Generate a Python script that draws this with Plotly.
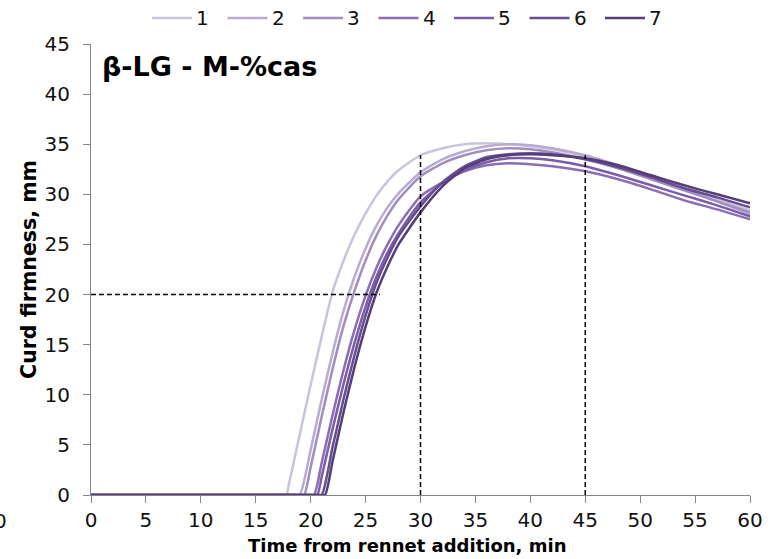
import plotly.graph_objects as go

# Sampling times (min) and curd firmness (mm) for the seven groups
TIME = [0, 17, 18, 19, 20, 21, 22, 23, 24, 25, 26, 27, 28, 30, 32, 34, 36,
        38, 40, 42, 45, 48, 51, 54, 57, 60]

SERIES_NAMES = ["1", "2", "3", "4", "5", "6", "7"]
ONSET = [17.8, 19.0, 19.4, 20.3, 20.6, 21.0, 21.3]

FIRM_1 = [0, 0, 1.0, 6.0, 11.0, 15.8, 20.3, 23.4, 26.0, 28.1, 29.9, 31.3, 32.4,
          33.9, 34.6, 35.0, 35.1, 35.0, 34.8, 34.5, 33.8, 32.9, 31.8, 30.6, 29.5, 28.4]
FIRM_2 = [0, 0, 0, 0, 4.5, 9.5, 14.2, 18.4, 21.8, 24.6, 26.9, 28.7, 30.1,
          32.2, 33.5, 34.3, 34.8, 35.0, 34.9, 34.6, 33.9, 32.9, 31.8, 30.6, 29.3, 28.0]
FIRM_3 = [0, 0, 0, 0, 2.8, 7.8, 12.6, 16.9, 20.4, 23.4, 25.9, 27.9, 29.5,
          31.8, 33.1, 33.9, 34.4, 34.6, 34.5, 34.2, 33.5, 32.6, 31.5, 30.4, 29.3, 28.2]
FIRM_4 = [0, 0, 0, 0, 0, 3.2, 8.0, 12.5, 16.5, 19.9, 22.7, 25.0, 26.9,
          29.8, 31.2, 32.3, 32.9, 33.1, 33.0, 32.8, 32.3, 31.5, 30.5, 29.4, 28.5, 27.5]
FIRM_5 = [0, 0, 0, 0, 0, 1.8, 6.6, 11.1, 15.2, 18.8, 21.8, 24.2, 26.1,
          29.2, 31.1, 32.4, 33.2, 33.6, 33.6, 33.4, 32.8, 31.9, 30.9, 29.9, 28.9, 27.8]
FIRM_6 = [0, 0, 0, 0, 0, 0, 4.8, 9.6, 14.0, 17.9, 21.2, 23.7, 25.8,
          28.8, 31.2, 32.8, 33.7, 34.0, 34.1, 34.0, 33.5, 32.7, 31.7, 30.6, 29.7, 28.7]
FIRM_7 = [0, 0, 0, 0, 0, 0, 3.4, 8.3, 12.8, 16.8, 20.2, 22.8, 25.0,
          28.2, 30.8, 32.6, 33.5, 33.9, 34.0, 33.9, 33.6, 32.9, 31.9, 30.9, 30.0, 29.1]

FIRMNESS = [FIRM_1, FIRM_2, FIRM_3, FIRM_4, FIRM_5, FIRM_6, FIRM_7]
COLORS = ["#cbc3da", "#b9abd0", "#a28dc2", "#8c6db5", "#7b5ca8", "#684c93", "#553d78"]

# Reference guides: firmness of 20 mm, and readings at 30 and 45 min
GUIDE_H_X = [0, 26.3]
GUIDE_H_Y = [20, 20]
GUIDE_V30_X = [30, 30]
GUIDE_V30_Y = [0, 33.9]
GUIDE_V45_X = [45, 45]
GUIDE_V45_Y = [0, 33.9]

X_TICKS = list(range(0, 61, 5))
Y_TICKS = list(range(0, 46, 5))

FONT = "DejaVu Sans, Liberation Sans, Arial, sans-serif"

# page geometry (px) of the plotting area
W, H = 771, 559
ML, MR, MT, MB = 91, 21, 44, 64
PW, PH = W - ML - MR, H - MT - MB


def px_to_paper(px, py):
    return (px - ML) / PW, (H - MB - py) / PH


fig = go.Figure()

for name, onset, vals, color in zip(SERIES_NAMES, ONSET, FIRMNESS, COLORS):
    # flat baseline up to the onset of coagulation, then the measured curve
    rise = [(t, v) for t, v in zip(TIME, vals) if t > onset]
    xs = [0, onset - 6, onset - 2, onset - 0.5, onset] + [t for t, _ in rise]
    ys = [0, 0, 0, 0, 0] + [v for _, v in rise]
    fig.add_trace(go.Scatter(
        x=xs, y=ys, name=name, mode="lines", showlegend=False,
        line=dict(color=color, width=2.5, shape="spline", smoothing=0.6),
    ))

for gx, gy in [(GUIDE_H_X, GUIDE_H_Y), (GUIDE_V30_X, GUIDE_V30_Y), (GUIDE_V45_X, GUIDE_V45_Y)]:
    fig.add_trace(go.Scatter(
        x=gx, y=gy, mode="lines", showlegend=False, hoverinfo="skip",
        line=dict(color="black", width=1.5, dash="5px,3px"),
    ))

# legend row across the top: a short coloured line followed by the group number
shapes, annotations = [], []
LEG_X0, LEG_STEP, LEG_LINE, LEG_Y = 152, 75.5, 40, 18
for i, (name, color) in enumerate(zip(SERIES_NAMES, COLORS)):
    x0 = LEG_X0 + i * LEG_STEP
    ax0, ay = px_to_paper(x0, LEG_Y)
    ax1, _ = px_to_paper(x0 + LEG_LINE, LEG_Y)
    shapes.append(dict(type="line", xref="paper", yref="paper",
                       x0=ax0, x1=ax1, y0=ay, y1=ay,
                       line=dict(color=color, width=2.5)))
    tx, _ = px_to_paper(x0 + LEG_LINE + 2, LEG_Y)
    annotations.append(dict(text=name, xref="paper", yref="paper",
                            x=tx, y=ay, xanchor="left", yanchor="middle",
                            showarrow=False, font=dict(size=20, color="#111111")))

tx, ty = px_to_paper(100, 66)
annotations.append(dict(text="<b>β-LG - M-%cas</b>", xref="paper", yref="paper",
                        x=tx, y=ty, xanchor="left", yanchor="middle",
                        showarrow=False, font=dict(size=27, color="black")))
tx, ty = px_to_paper(407, 545)
annotations.append(dict(text="<b>Time from rennet addition, min</b>", xref="paper",
                        yref="paper", x=tx, y=ty, xanchor="center", yanchor="middle",
                        showarrow=False, font=dict(size=18, color="black")))
tx, ty = px_to_paper(9, 521)
annotations.append(dict(text="0", xref="paper", yref="paper",
                        x=tx, y=ty, xanchor="right", yanchor="middle",
                        showarrow=False, font=dict(size=20, color="#111111")))

fig.update_layout(
    width=W, height=H,
    margin=dict(l=ML, r=MR, t=MT, b=MB),
    paper_bgcolor="white", plot_bgcolor="white",
    font=dict(family=FONT, size=20, color="#111111"),
    showlegend=False,
    xaxis=dict(
        range=[0, 60], tickvals=X_TICKS, ticks="outside", ticklen=7,
        tickcolor="#868686", showline=True, linecolor="#868686", linewidth=1,
        showgrid=False, zeroline=False, layer="below traces", automargin=False,
        tickfont=dict(size=20),
    ),
    yaxis=dict(
        range=[0, 45], tickvals=Y_TICKS, ticks="outside", ticklen=7,
        tickcolor="#868686", showline=True, linecolor="#868686", linewidth=1,
        showgrid=False, zeroline=False, layer="below traces", automargin=False,
        tickfont=dict(size=20), ticklabelstandoff=9,
        title=dict(text="<b>Curd firmness, mm</b>",
                   font=dict(size=20.5, color="black"), standoff=2),
    ),
    shapes=shapes,
    annotations=annotations,
)

fig.write_html("out.html")
